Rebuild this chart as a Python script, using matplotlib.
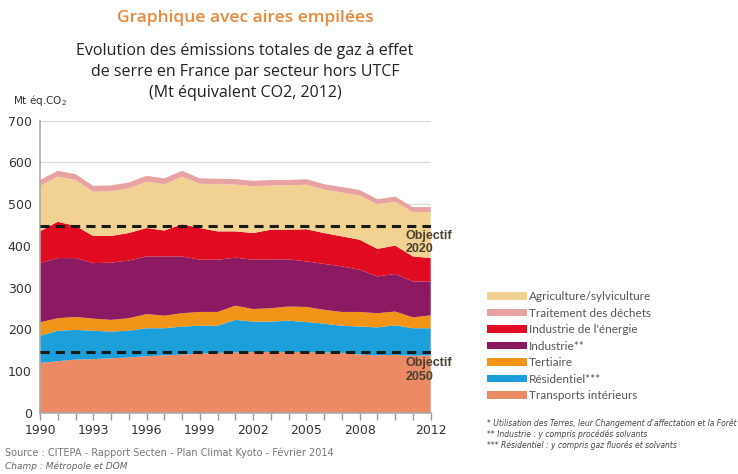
import numpy as np
import matplotlib
matplotlib.use("Agg")
import matplotlib.pyplot as plt
from matplotlib.patches import Patch

plt.rcParams['font.family'] = ['Liberation Sans Narrow', 'DejaVu Sans']

years = list(range(1990, 2013))

# Mt eq. CO2 by sector, stacked bottom to top
transports = [120, 124, 128, 129, 131, 133, 136, 138, 140, 142, 144, 145,
              146, 146, 146, 146, 145, 144, 140, 138, 139, 137, 138]
residentiel = [65, 73, 71, 68, 64, 64, 67, 65, 67, 67, 65, 78,
               73, 73, 75, 72, 69, 65, 67, 67, 71, 66, 65]
tertiaire = [32, 30, 31, 29, 28, 30, 34, 30, 32, 33, 33, 34,
             30, 32, 34, 36, 33, 33, 35, 34, 33, 26, 31]
industrie = [142, 144, 141, 133, 137, 138, 138, 142, 136, 125, 125, 115,
             118, 117, 113, 109, 110, 109, 101, 88, 90, 86, 81]
energie = [76, 87, 77, 65, 64, 66, 68, 62, 77, 76, 68, 63,
           64, 71, 71, 77, 74, 72, 72, 66, 68, 60, 56]
agriculture = [109, 108, 110, 106, 107, 107, 111, 111, 114, 106, 113, 112,
               112, 106, 106, 107, 104, 105, 106, 107, 105, 106, 110]
dechets = [14, 14, 14, 14, 14, 14, 14, 14, 14, 13, 13, 13,
           13, 13, 13, 13, 13, 13, 13, 12, 12, 12, 12]

objectif_2020 = 447
objectif_2050 = 146

year_labels = ['1990', '1993', '1996', '1999', '2002', '2005', '2008', '2012']

layers = [transports, residentiel, tertiaire, industrie, energie, agriculture, dechets]
colors = ['#ec8a66', '#1c9fdb', '#f29417', '#8c1a62', '#e10b22', '#f2d293', '#e8a2a2']
labels = ['Transports intérieurs', 'Résidentiel***', 'Tertiaire', 'Industrie**',
          "Industrie de l'énergie", 'Agriculture/sylviculture', 'Traitement des déchets']
legend_order = ['Agriculture/sylviculture', 'Traitement des déchets', "Industrie de l'énergie",
                'Industrie**', 'Tertiaire', 'Résidentiel***', 'Transports intérieurs']

fig = plt.figure(figsize=(7.38, 4.74), dpi=100)
ax = fig.add_axes([40 / 738, 61 / 474, 390.7 / 738, 292.3 / 474])

ax.stackplot(years, *layers, colors=colors, linewidth=0, zorder=2)

for y in range(100, 701, 100):
    ax.axhline(y, color='#dcdcdc', lw=1, zorder=1)

for y in (objectif_2020, objectif_2050):
    ax.axhline(y, color='#1a1a1a', lw=2.2, ls=(0, (3, 2)), zorder=3)

ax.set_xlim(1990, 2012)
ax.set_ylim(0, 700)
ax.set_yticks(range(0, 701, 100))
ax.set_xticks(years)
ax.set_xticklabels([str(y) if str(y) in year_labels else '' for y in years])
ax.tick_params(axis='y', length=0, labelsize=9, colors='#333333', pad=6)
ax.tick_params(axis='x', length=5, width=1, color='#999999', labelsize=9,
               labelcolor='#333333', pad=3)
for side in ('top', 'right'):
    ax.spines[side].set_visible(False)
for side in ('left', 'bottom'):
    ax.spines[side].set_color('#aaaaaa')
    ax.spines[side].set_linewidth(1.2)

obj_font = dict(fontsize=9, fontweight='bold', color='#4a4030',
                family=['Liberation Sans', 'DejaVu Sans'])
ax.text(2012 - 1.4, objectif_2020 - 8, 'Objectif\n2020', va='top', ha='left',
        linespacing=1.15, zorder=4, clip_on=False, **obj_font)
ax.text(2012 - 1.4, objectif_2050 - 12, 'Objectif\n2050', va='top', ha='left',
        linespacing=1.2, zorder=4, clip_on=False, **obj_font)

fig.text(245 / 738, 1 - 18 / 474, 'Graphique avec aires empilées', ha='center', va='center',
         fontsize=12.5, fontweight='semibold', color='#e8883a',
         family=['Open Sans', 'DejaVu Sans'])
fig.text(245 / 738, 1 - 72 / 474,
         'Evolution des émissions totales de gaz à effet\nde serre en France par secteur hors UTCF\n'
         '(Mt équivalent CO2, 2012)',
         ha='center', va='center', fontsize=11.5, color='#222222', linespacing=1.45,
         family=['Open Sans', 'DejaVu Sans'])
fig.text(13 / 738, 1 - 100 / 474, 'Mt éq.CO$_2$', ha='left', va='center', fontsize=7.5,
         color='#333333')

by_label = dict(zip(labels, colors))
handles = [Patch(facecolor=by_label[l], edgecolor='none', label=l) for l in legend_order]
leg = fig.legend(handles=handles, loc='upper left', bbox_to_anchor=(487 / 738, 1 - 291 / 474),
                 frameon=False, fontsize=8.5, handlelength=3.4, handleheight=0.6,
                 handletextpad=0.15, labelspacing=0.47, borderaxespad=0, borderpad=0)
for t in leg.get_texts():
    t.set_color('#555555')
    t.set_family(['Lato', 'DejaVu Sans'])

notes = ["* Utilisation des Terres, leur Changement d'affectation et la Forêt",
         '** Industrie : y compris procédés solvants',
         '*** Résidentiel : y compris gaz fluorés et solvants']
for i, note in enumerate(notes):
    fig.text(487 / 738, 1 - (423 + 11 * i) / 474, note, ha='left', va='center',
             fontsize=5.5, style='italic', color='#444444')

fig.text(5 / 738, 1 - 453 / 474,
         'Source : CITEPA - Rapport Secten - Plan Climat Kyoto - Février 2014',
         ha='left', va='center', fontsize=7, color='#777777')
fig.text(5 / 738, 1 - 466 / 474, 'Champ : Métropole et DOM', ha='left', va='center',
         fontsize=6.5, style='italic', color='#666666')

fig.savefig('out.png', dpi=100)
